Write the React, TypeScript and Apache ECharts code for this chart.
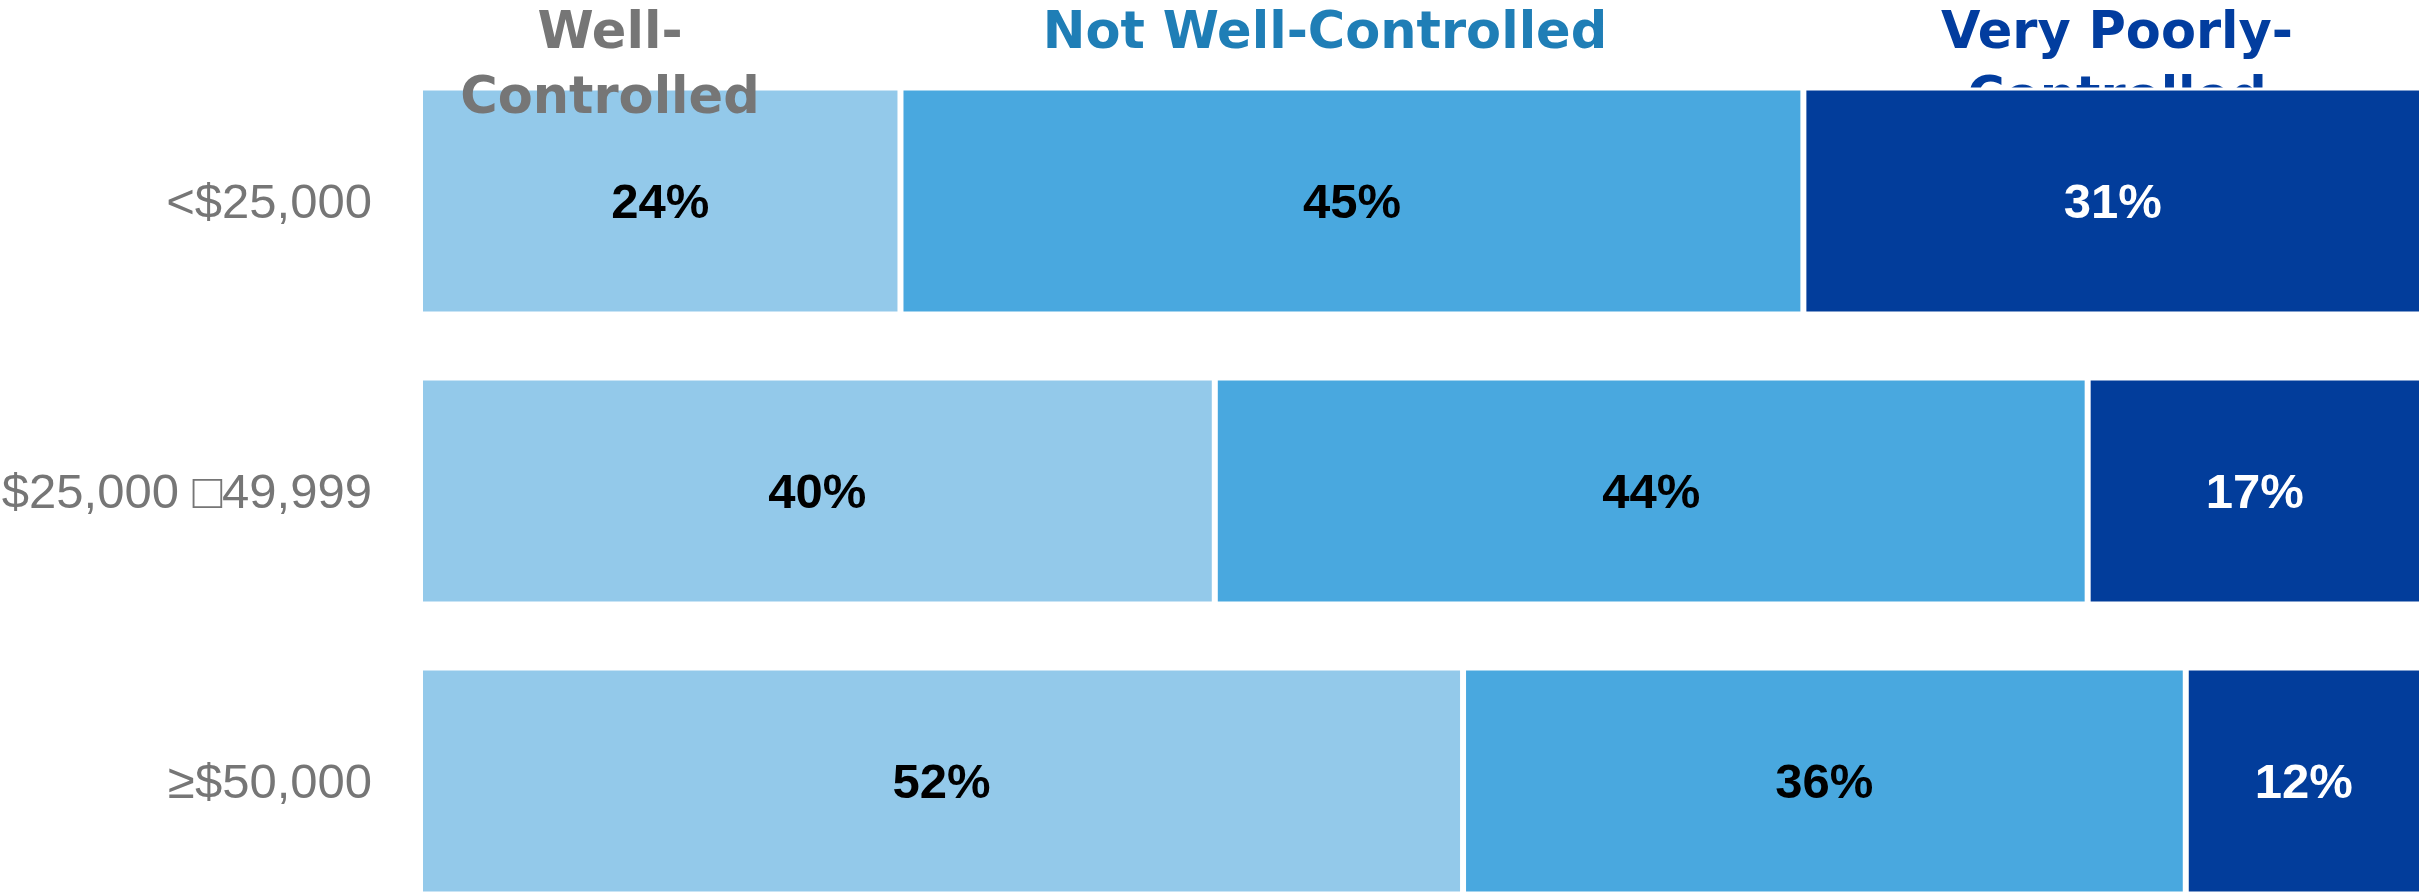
import React, { useEffect, useRef } from "react";
import * as echarts from "echarts";

const categories = ["<$25,000", "$25,000 □49,999", "≥$50,000"];
const seriesNames = ["Well-Controlled", "Not Well-Controlled", "Very Poorly-Controlled"];
const wellControlled = [24, 39.7, 52.1];
const notWellControlled = [45.1, 43.6, 36.1];
const veryPoorlyControlled = [30.9, 16.7, 11.8];
const barColors = ["#93C9EA", "#49A8DF", "#023D9B"];
const labelColors = ["#000000", "#000000", "#FFFFFF"];
const headerColors = ["#767676", "#1F7EB6", "#023D9F"];

const LABEL_FONT = '"Liberation Sans", Arial, sans-serif';
const HEAD = '"DejaVu Sans", Verdana, sans-serif';

export default function App() {
  const ref = useRef<HTMLDivElement>(null);
  useEffect(() => {
    if (!ref.current) return;
    const chart = echarts.init(ref.current, undefined, { renderer: "svg" });
    const values = [wellControlled, notWellControlled, veryPoorlyControlled];
    const headText = (text: string, x: number, y: number, color: string, z: number) => ({
      type: "text",
      x,
      y,
      z,
      style: {
        text,
        fill: color,
        font: `bold 51px ${HEAD}`,
        textAlign: "center",
        textVerticalAlign: "middle",
      },
    });
    chart.setOption({
      animation: false,
      backgroundColor: "#ffffff",
      grid: {
        left: 420,
        right: 0,
        top: 56,
        height: 870,
        containLabel: false,
        outerBoundsMode: "none",
      },
      xAxis: {
        type: "value",
        min: 0,
        max: 100,
        show: false,
      },
      yAxis: {
        type: "category",
        data: categories,
        inverse: true,
        axisLine: { show: false },
        axisTick: { show: false },
        axisLabel: {
          margin: 48,
          color: "#767676",
          fontSize: 49,
          fontFamily: LABEL_FONT,
        },
      },
      series: values.map((v, i) => ({
        type: "bar",
        name: seriesNames[i],
        stack: "total",
        data: v,
        barWidth: 227,
        itemStyle: { color: barColors[i], borderColor: "#ffffff", borderWidth: 3 },
        label: {
          show: true,
          position: "inside",
          color: labelColors[i],
          fontSize: 49,
          fontWeight: "bold",
          fontFamily: LABEL_FONT,
          formatter: (p: any) => Math.round(p.value) + "%",
        },
      })),
      graphic: [
        headText("Well-", 610, 30, headerColors[0], 10),
        headText("Controlled", 610, 95, headerColors[0], 10),
        headText("Not Well-Controlled", 1325, 30, headerColors[1], 10),
        headText("Very Poorly-", 2117, 30, headerColors[2], 0),
        headText("Controlled", 2117, 95, headerColors[2], 0),
      ],
    });
    return () => chart.dispose();
  }, []);
  return (
    <div
      ref={ref}
      style={{ position: "fixed", left: 0, top: 0, width: 2422, height: 895, background: "#fff" }}
    />
  );
}
